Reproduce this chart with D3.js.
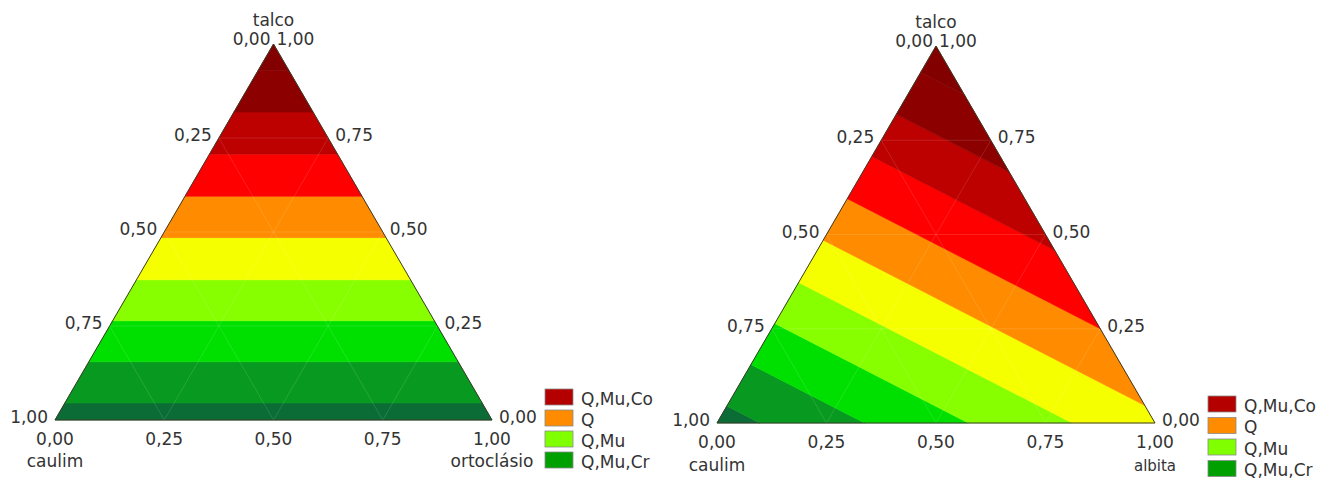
<!DOCTYPE html>
<html>
<head>
<meta charset="utf-8">
<script src="https://cdn.jsdelivr.net/npm/d3@7"></script>
<style>
  body { margin: 0; background: #fff; }
  svg { display: block; font-family: "DejaVu Sans", Verdana, sans-serif; }
</style>
</head>
<body>
<svg id="chart" width="1319" height="479"></svg>
<script>
// contour levels of the response (same for both diagrams)
const levels = [0.045, 0.155, 0.264, 0.373, 0.485, 0.595, 0.707, 0.819, 0.93];
const bandColors = ['#0b6c36', '#089a20', '#00e000', '#88ff00', '#f6ff00',
                    '#ff8c00', '#ff0000', '#bd0000', '#8c0000', '#830000'];

const tickValues = [0, 0.25, 0.5, 0.75, 1];
const tickLabels = ['0,00', '0,25', '0,50', '0,75', '1,00'];

// vertex order: talco (top), caulim (bottom-left), third component (bottom-right)
const names1 = ['talco', 'caulim', 'ortoclásio'];
const values1 = [1, 0, 0];
const names2 = ['talco', 'caulim', 'albita'];
const values2 = [1, 0, 0.46];

const legendLabels = ['Q,Mu,Co', 'Q', 'Q,Mu', 'Q,Mu,Cr'];
const legendColors = ['#b50000', '#ff8c00', '#80ff00', '#00a000'];

const TXT = '#333';
const svg = d3.select('#chart');

function drawTernary(cfg) {
    const x = d3.scaleLinear().domain([0, 1]).range([cfg.x0, cfg.x1]);
    const y = d3.scaleLinear().domain([0, 1]).range([cfg.y0, cfg.yTop]);
    const v = cfg.values;
    // point = {t: talco, o: third}, caulim = 1 - t - o
    const f = p => v[0] * p.t + v[1] * (1 - p.t - p.o) + v[2] * p.o;
    const px = p => x(p.o + p.t / 2);
    const py = p => y(p.t);

    function clip(poly, g) {
        const out = [];
        for (let i = 0; i < poly.length; i++) {
            const a = poly[i], b = poly[(i + 1) % poly.length];
            const ga = g(a), gb = g(b);
            if (ga >= 0) out.push(a);
            if ((ga >= 0) !== (gb >= 0)) {
                const s = ga / (ga - gb);
                out.push({t: a.t + s * (b.t - a.t), o: a.o + s * (b.o - a.o)});
            }
        }
        return out;
    }

    const tri = [{t: 1, o: 0}, {t: 0, o: 0}, {t: 0, o: 1}];
    const line = d3.line().x(px).y(py);
    const g = svg.append('g');

    bandColors.forEach((col, i) => {
        let poly = tri;
        if (i > 0) poly = clip(poly, p => f(p) - levels[i - 1]);
        if (i < levels.length) poly = clip(poly, p => levels[i] - f(p));
        if (poly.length < 3) return;
        g.append('path')
            .attr('d', line(poly) + 'Z')
            .attr('fill', col)
            .attr('stroke', col)
            .attr('stroke-width', 0.6);
    });

    // faint grid
    const grid = g.append('g')
        .attr('stroke', '#fff')
        .attr('stroke-opacity', 0.12)
        .attr('stroke-width', 1);
    [0.25, 0.5, 0.75].forEach(k => {
        grid.append('path').attr('d', line([{t: k, o: 0}, {t: k, o: 1 - k}]));
        grid.append('path').attr('d', line([{t: 0, o: k}, {t: 1 - k, o: k}]));
        grid.append('path').attr('d', line([{t: k, o: 0}, {t: 0, o: k}]));
    });

    g.append('path')
        .attr('d', line(tri) + 'Z')
        .attr('fill', 'none')
        .attr('stroke', '#3a3a2a')
        .attr('stroke-width', 1);

    const lab = svg.append('g').attr('fill', TXT).style('font-size', '17px');
    const apex = {x: px(tri[0]), y: py(tri[0])};

    lab.append('text').attr('x', apex.x).attr('y', apex.y - 18)
        .attr('text-anchor', 'middle').text(cfg.names[0]);
    lab.append('text').attr('x', apex.x - 3).attr('y', apex.y + 1)
        .attr('text-anchor', 'end').text(tickLabels[0]);
    lab.append('text').attr('x', apex.x + 3).attr('y', apex.y + 1)
        .attr('text-anchor', 'start').text(tickLabels[4]);

    // left edge: caulim fraction
    tickValues.slice(1).forEach((c, i) => {
        const p = {t: 1 - c, o: 0};
        lab.append('text').attr('x', px(p) - 7).attr('y', py(p) + 3)
            .attr('text-anchor', 'end').text(tickLabels[i + 1]);
    });
    // right edge: talco fraction
    tickValues.slice(0, 4).forEach((t, i) => {
        const p = {t: t, o: 1 - t};
        lab.append('text').attr('x', px(p) + 7).attr('y', py(p) + 3)
            .attr('text-anchor', 'start').text(tickLabels[i]);
    });
    // bottom edge: third component
    tickValues.forEach((o, i) => {
        lab.append('text').attr('x', x(o)).attr('y', cfg.y0 + 25)
            .attr('text-anchor', 'middle').text(tickLabels[i]);
    });
    lab.append('text').attr('x', x(0)).attr('y', cfg.y0 + cfg.nameDy)
        .attr('text-anchor', 'middle').text(cfg.names[1]);
    lab.append('text').attr('x', x(1)).attr('y', cfg.y0 + cfg.nameDy)
        .attr('text-anchor', 'middle')
        .style('font-size', cfg.lastNameSize)
        .text(cfg.names[2]);

    // legend
    const leg = svg.append('g')
        .attr('transform', `translate(${cfg.legX},${cfg.legY})`);
    legendLabels.forEach((name, i) => {
        const row = leg.append('g').attr('transform', `translate(0,${i * cfg.legStep})`);
        row.append('rect').attr('width', 28).attr('height', 16)
            .attr('fill', legendColors[i])
            .attr('stroke', '#8a8a8a').attr('stroke-width', 0.8);
        row.append('text').attr('x', 36).attr('y', 15.5)
            .attr('fill', TXT).style('font-size', '17px').text(name);
    });
}

drawTernary({x0: 55, x1: 492, y0: 420, yTop: 44, values: values1, names: names1,
             nameDy: 47, lastNameSize: '17px', legX: 545, legY: 389, legStep: 21});
drawTernary({x0: 717, x1: 1155, y0: 423, yTop: 46, values: values2, names: names2,
             nameDy: 48, lastNameSize: '15px', legX: 1208, legY: 396, legStep: 21.5});
</script>
</body>
</html>
